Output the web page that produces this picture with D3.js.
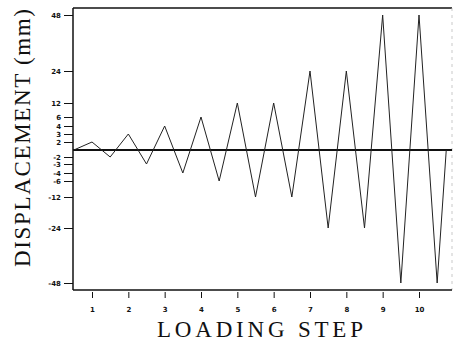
<!DOCTYPE html>
<html>
<head>
<meta charset="utf-8">
<script src="https://cdn.jsdelivr.net/npm/d3@7"></script>
<style>
  body { margin: 0; background: #fff; }
  svg { display: block; }
  .tick text { font-family: "DejaVu Sans", sans-serif; font-size: 7px; font-weight: bold; fill: #111; }
  .title { font-family: "Liberation Serif", "DejaVu Serif", serif; fill: #111; }
</style>
</head>
<body>
<script>
// loading step (half steps are the troughs) and measured displacement
var steps = [0.5, 1, 1.5, 2, 2.5, 3, 3.5, 4, 4.5, 5, 5.5, 6, 6.5, 7, 7.5, 8, 8.5, 9, 9.5, 10, 10.5, 10.75];
var displacement = [0, 2, -2, 3, -3, 4, -4, 6, -6, 12, -12, 12, -12, 24, -24, 24, -24, 48, -48, 48, -48, 0];

var xTicks = [1, 2, 3, 4, 5, 6, 7, 8, 9, 10];
var yTicks = [48, 24, 12, 6, 4, 3, 2, -2, -3, -4, -6, -12, -24, -48];

// the displacement axis is drawn on a stretched (non-linear) scale
var yBreaks = [-48, -24, -12, -6, -4, -3, -2, 0, 2, 3, 4, 6, 12, 24, 48];
var yPixels = [283, 228, 197, 181, 173, 164, 157, 150, 142, 134, 126, 117, 103, 71, 15];

window.onload = function () {
    var width = 453,
        height = 341,
        left = 73,
        top = 8,
        bottom = 290,
        right = 452;

    var svg = d3.select('body').append('svg')
        .attr('width', width)
        .attr('height', height);

    var x = d3.scaleLinear().domain([1, 10]).range([92, 419]);
    var y = d3.scaleLinear().domain(yBreaks).range(yPixels);

    /** frame **/
    svg.append('line')
        .attr('x1', left).attr('x2', right)
        .attr('y1', top).attr('y2', top)
        .attr('stroke', '#111').attr('stroke-width', 1.5);
    svg.append('line')
        .attr('x1', right).attr('x2', right)
        .attr('y1', top).attr('y2', bottom)
        .attr('stroke', '#bbb').attr('stroke-width', 0.8)
        .attr('stroke-dasharray', '3,4');

    /** y axis **/
    var yAxis = svg.append('g')
        .attr('transform', 'translate(' + left + ',0)')
        .call(d3.axisLeft(y).tickValues(yTicks).tickSize(9).tickPadding(3)
            .tickFormat(function (d) { return d; }));
    yAxis.select('.domain').remove();
    yAxis.selectAll('.tick line').attr('stroke', '#111').attr('stroke-width', 1);
    svg.append('line')
        .attr('x1', left).attr('x2', left)
        .attr('y1', top).attr('y2', bottom)
        .attr('stroke', '#111').attr('stroke-width', 1.5);

    /** x axis **/
    var xAxis = svg.append('g')
        .attr('transform', 'translate(0,' + (bottom + 2) + ')')
        .call(d3.axisBottom(x).tickValues(xTicks).tickSize(6).tickPadding(9));
    xAxis.select('.domain').remove();
    xAxis.selectAll('.tick line').attr('stroke', '#111').attr('stroke-width', 1);
    svg.append('line')
        .attr('x1', left).attr('x2', right)
        .attr('y1', bottom).attr('y2', bottom)
        .attr('stroke', '#111').attr('stroke-width', 1.5);

    /** zero line **/
    svg.append('line')
        .attr('x1', left).attr('x2', right)
        .attr('y1', y(0)).attr('y2', y(0))
        .attr('stroke', '#111').attr('stroke-width', 2);

    /** displacement history **/
    var pts = steps.map(function (s, i) { return [s, displacement[i]]; });
    svg.append('path')
        .datum(pts)
        .attr('fill', 'none')
        .attr('stroke', '#222')
        .attr('stroke-width', 1)
        .attr('d', d3.line()
            .x(function (d) { return x(d[0]); })
            .y(function (d) { return y(d[1]); }));

    /** titles **/
    svg.append('text')
        .attr('class', 'title')
        .attr('x', 157).attr('y', 337)
        .attr('font-size', 23)
        .attr('textLength', 206)
        .attr('lengthAdjust', 'spacing')
        .text('LOADING  STEP');

    svg.append('text')
        .attr('class', 'title')
        .attr('transform', 'translate(30,267) rotate(-90)')
        .attr('font-size', 23)
        .attr('textLength', 258)
        .attr('lengthAdjust', 'spacing')
        .text('DISPLACEMENT (mm)');
};
</script>
</body>
</html>
